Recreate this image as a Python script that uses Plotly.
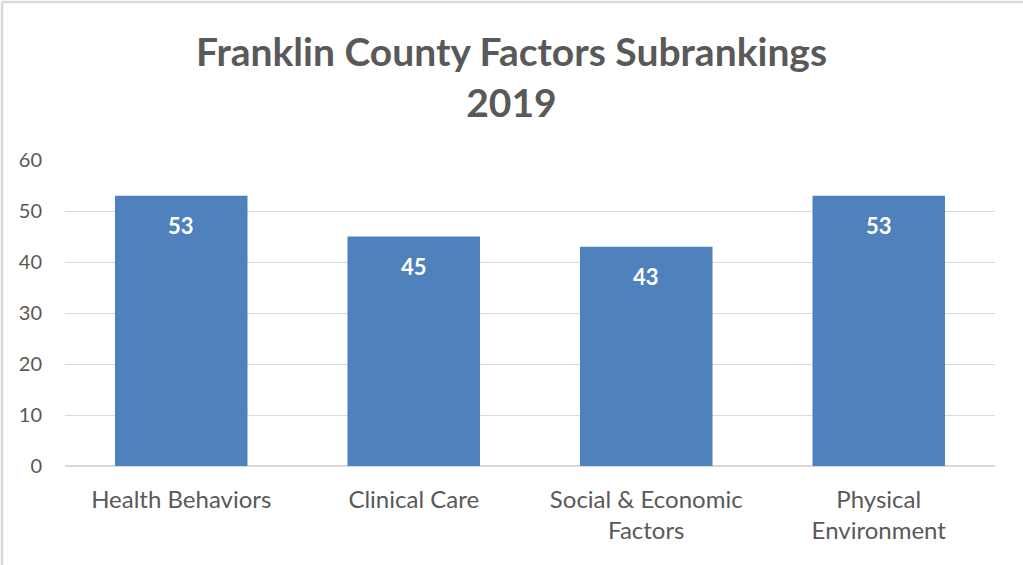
import plotly.graph_objects as go

# Chart data
categories = ["Health Behaviors", "Clinical Care", "Social & Economic<br>Factors", "Physical<br>Environment"]
ranks = [53, 45, 43, 53]
y_ticks = [0, 10, 20, 30, 40, 50, 60]

BAR_COLOR = "#4f81bd"
TEXT_COLOR = "#595959"
GRID_COLOR = "#d9d9d9"
FONT = "Lato"

fig = go.Figure(
    go.Bar(
        x=categories,
        y=ranks,
        marker=dict(color=BAR_COLOR, line=dict(width=0)),
        hoverinfo="skip",
    )
)

# value labels placed inside the top of each bar
for cat, val in zip(categories, ranks):
    fig.add_annotation(
        x=cat, y=val, text=f"<b>{val}</b>", showarrow=False,
        yanchor="middle", yshift=-30,
        font=dict(family=FONT, size=22, color="white"),
    )

fig.update_layout(
    width=1023,
    height=565,
    margin=dict(l=65, r=28, t=160, b=99),
    paper_bgcolor="white",
    plot_bgcolor="white",
    bargap=0.43,
    showlegend=False,
    title=dict(
        text="<b>Franklin County Factors Subrankings<br>2019</b>",
        x=0.5, xanchor="center",
        y=1 - 66 / 565, yanchor="middle",
        font=dict(family=FONT, size=39, color=TEXT_COLOR),
    ),
    font=dict(family=FONT, color=TEXT_COLOR),
    xaxis=dict(
        showgrid=False, showline=False, ticks="",
        ticklabelstandoff=17,
        tickfont=dict(family=FONT, size=24, color=TEXT_COLOR),
    ),
    yaxis=dict(
        range=[0, 60], tickvals=y_ticks, showgrid=True,
        gridcolor=GRID_COLOR, gridwidth=1.3,
        zeroline=True, zerolinecolor=GRID_COLOR, zerolinewidth=1.5,
        showline=False, ticks="", ticklabelstandoff=22,
        tickfont=dict(family=FONT, size=20, color=TEXT_COLOR),
    ),
    shapes=[
        # chart frame (top and left edges)
        dict(type="line", xref="paper", yref="paper",
             x0=-63 / 930, x1=1.05, y0=1 + 158 / 306, y1=1 + 158 / 306,
             line=dict(color=GRID_COLOR, width=2.5)),
        dict(type="line", xref="paper", yref="paper",
             x0=-63 / 930, x1=-63 / 930, y0=1 + 158 / 306, y1=-0.5,
             line=dict(color=GRID_COLOR, width=2.5)),
    ],
)

fig.write_html("out.html")
